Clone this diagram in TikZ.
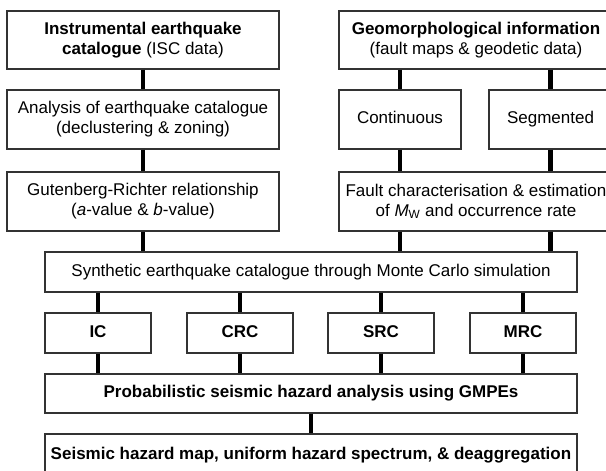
\documentclass[tikz,border=0pt]{standalone}
\usepackage{fontspec}
\setmainfont{Liberation Sans}
\begin{document}
\begin{tikzpicture}[x=1pt,y=-1pt,
  box/.style={draw=black!80, line width=1.2pt, rectangle, inner sep=0pt, align=center,
    font=\fontsize{17}{20}\selectfont},
  oneline/.style={box, text height=12.2pt, text depth=3.6pt},
  boldbox/.style={oneline, font=\fontsize{17}{20}\selectfont\bfseries},
  link/.style={line width=4.5pt}]
\useasboundingbox (0,0) rectangle (606,471);
\clip (0,0) rectangle (606,471);
\node[box, minimum width=272, minimum height=58] (inst) at (143,40) {\textbf{Instrumental earthquake}\\\textbf{catalogue} (ISC data)};
\node[box, minimum width=272, minimum height=59] (anal) at (143,119.5) {Analysis of earthquake catalogue\\(declustering \& zoning)};
\node[box, minimum width=272, minimum height=59] (gr) at (143,201.5) {Gutenberg-Richter relationship\\(\textit{a}-value \& \textit{b}-value)};
\node[box, minimum width=274, minimum height=58] (geo) at (476,40) {\textbf{Geomorphological information}\\(fault maps \& geodetic data)};
\node[oneline, minimum width=122, minimum height=59] (cont) at (400,119.5) {Continuous};
\node[oneline, minimum width=123, minimum height=59] (seg) at (550.5,119.5) {Segmented};
\node[box, minimum width=274, minimum height=59] (fault) at (476,201.5) {Fault characterisation \& estimation\\of \textit{M}\textsubscript{W} and occurrence rate};
\node[oneline, minimum width=532, minimum height=40] (synth) at (311,272) {Synthetic earthquake catalogue through Monte Carlo simulation};
\node[boldbox, minimum width=106, minimum height=40] (ic) at (98,333) {IC};
\node[boldbox, minimum width=106, minimum height=40] (crc) at (240,333) {CRC};
\node[boldbox, minimum width=106, minimum height=40] (src) at (381,333) {SRC};
\node[boldbox, minimum width=106, minimum height=40] (mrc) at (523,333) {MRC};
\node[boldbox, minimum width=532, minimum height=39] (psha) at (311,393.5) {Probabilistic seismic hazard analysis using GMPEs};
\node[boldbox, minimum width=532, minimum height=42] (map) at (311,455) {Seismic hazard map, uniform hazard spectrum, \& deaggregation};
\draw[link] (inst) -- (anal);
\draw[link] (anal) -- (gr);
\draw[link] (gr.south) -- (gr.south |- synth.north);
\draw[link] (cont.north |- geo.south) -- (cont);
\draw[link] (seg.north |- geo.south) -- (seg);
\draw[link] (cont) -- (cont.south |- fault.north);
\draw[link] (seg) -- (seg.south |- fault.north);
\draw[link] (cont.south |- fault.south) -- (cont.south |- synth.north);
\draw[link] (seg.south |- fault.south) -- (seg.south |- synth.north);
\foreach \n in {ic,crc,src,mrc}{
  \draw[link] (\n.north |- synth.south) -- (\n);
  \draw[link] (\n) -- (\n.south |- psha.north);
}
\draw[link] (psha) -- (map);
\end{tikzpicture}
\end{document}
